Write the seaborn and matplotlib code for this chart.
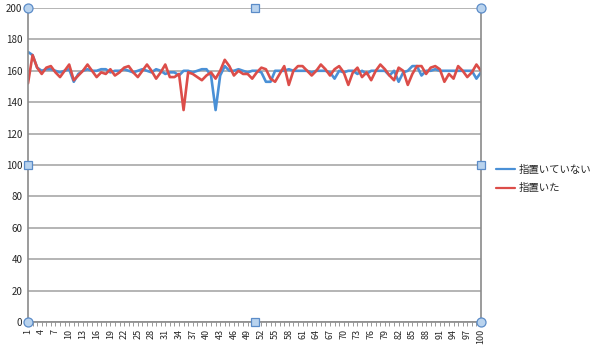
import numpy as np
import pandas as pd
import matplotlib
matplotlib.use('Agg')
import matplotlib.pyplot as plt
import seaborn as sns

# series values (trial 1..100)
trial = list(range(1, 101))
finger_off = [172, 170, 162, 160, 161, 161, 160, 159, 160, 161,
              153, 158, 160, 161, 160, 160, 161, 161, 159, 160,
              160, 161, 160, 159, 160, 161, 160, 159, 161, 160,
              158, 159, 159, 157, 160, 160, 159, 160, 161, 161,
              157, 135, 157, 163, 160, 160, 161, 160, 159, 160,
              160, 159, 153, 153, 160, 160, 160, 161, 160, 160,
              160, 160, 159, 160, 160, 160, 159, 155, 160, 159,
              160, 160, 158, 160, 158, 160, 160, 160, 160, 157,
              160, 153, 159, 160, 163, 163, 157, 160, 160, 161,
              160, 160, 160, 160, 160, 160, 160, 160, 155, 159]
finger_on = [152, 170, 162, 158, 162, 163, 159, 156, 160, 164,
             154, 157, 160, 164, 160, 156, 159, 158, 161, 157,
             159, 162, 163, 159, 156, 160, 164, 160, 155, 159,
             164, 156, 156, 158, 135, 159, 158, 156, 154, 157,
             159, 155, 160, 167, 163, 157, 160, 158, 158, 155,
             159, 162, 161, 155, 153, 158, 163, 151, 160, 163,
             163, 160, 157, 160, 164, 161, 157, 161, 163, 159,
             151, 159, 162, 156, 159, 154, 160, 164, 161, 157,
             154, 162, 160, 151, 158, 163, 163, 158, 162, 163,
             161, 153, 158, 155, 163, 160, 156, 159, 164, 160]
series_names = ['指置いていない', '指置いた']
colors = ['#4a90d6', '#dc4d49']
y_ticks = list(range(0, 201, 20))
x_ticks = list(range(1, 101, 3))

df = pd.DataFrame({
    'trial': trial * 2,
    'value': finger_off + finger_on,
    'series': [series_names[0]] * len(trial) + [series_names[1]] * len(trial),
})

sns.set_style('white')
plt.rcParams['font.family'] = ['Noto Sans CJK JP', 'DejaVu Sans']

fig = plt.figure(figsize=(5.91, 3.52), dpi=100)
ax = fig.add_axes([28 / 591, 1 - 322 / 352, (481 - 28) / 591, (322 - 8) / 352])

sns.lineplot(data=df, x='trial', y='value', hue='series', palette=colors,
             lw=1.9, ax=ax, legend=True)

ax.set_xlim(1, 100)
ax.set_ylim(0, 200)
ax.set_yticks(y_ticks)
ax.set_yticklabels([str(t) for t in y_ticks], fontsize=7)
ax.set_xticks(x_ticks)
ax.set_xticklabels([str(t) for t in x_ticks], rotation=90, fontsize=6.5)
ax.set_xticks(trial, minor=True)
ax.tick_params(axis='x', which='both', direction='out', length=3, width=0.6,
               color='#888888', pad=2, bottom=True)
ax.tick_params(axis='y', length=0, pad=4)
ax.grid(axis='y', color='#a8a8a8', lw=1.2)
ax.set_axisbelow(True)
ax.set_xlabel('')
ax.set_ylabel('')
for side in ['left', 'bottom', 'right']:
    ax.spines[side].set_color('#8a8a8a')
    ax.spines[side].set_linewidth(1.2)
ax.spines['top'].set_visible(False)

# plot-area selection handles as in the reference
hx = [0, 0.5, 1, 0, 1, 0, 0.5, 1]
hy = [1, 1, 1, 0.5, 0.5, 0, 0, 0]
hm = ['o', 's', 'o', 's', 's', 'o', 's', 'o']
for x, y, m in zip(hx, hy, hm):
    ax.plot(x, y, marker=m, ms=6.5 if m == 'o' else 5.5, mfc='#b9d3ee',
            mec='#5b8cc8', mew=0.9, transform=ax.transAxes, clip_on=False,
            zorder=10)

leg = ax.legend(loc='center left', bbox_to_anchor=(1.033, 0.455), frameon=False,
                fontsize=7.5, handlelength=1.85, handletextpad=0.3,
                labelspacing=0.8, borderaxespad=0, borderpad=0)
for line in leg.get_lines():
    line.set_linewidth(1.6)

fig.savefig('out.png', dpi=100)
